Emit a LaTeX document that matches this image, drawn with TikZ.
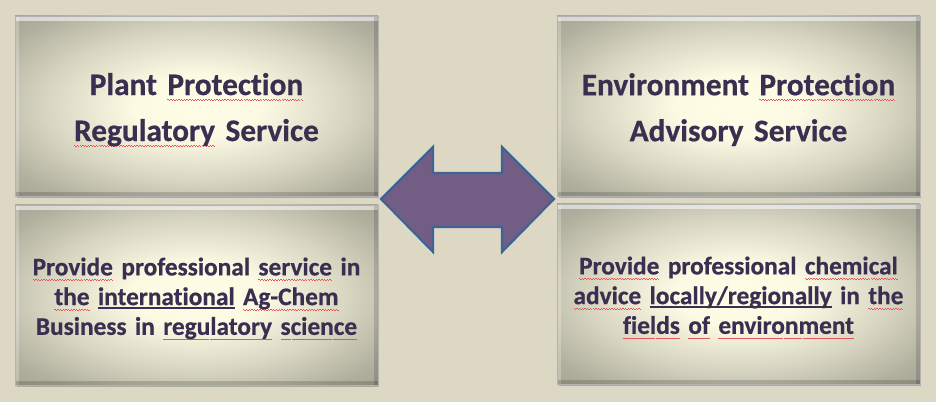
\documentclass[tikz,border=0pt]{standalone}
\usepackage{fontspec}
\setmainfont{Carlito}[Ligatures={NoCommon},BoldFeatures={FakeBold=0.6}]
\usetikzlibrary{shadows,positioning}
\definecolor{bgcol}{HTML}{DDD8C3}
\definecolor{txtcol}{HTML}{3B2F51}
\definecolor{boxin}{HTML}{FFFDE6}
\definecolor{boxout}{HTML}{A6A594}
\definecolor{arrfill}{HTML}{725E85}
\definecolor{arrline}{HTML}{3F6394}
\definecolor{squig}{HTML}{E2585A}
\newsavebox\wordbox
\newcommand\sqw[1]{\leavevmode\sbox\wordbox{#1}\rlap{\color{squig}\hbox to\wd\wordbox{\xleaders\hbox{\rule[-3.4pt]{1pt}{0.42pt}\rule[-3.85pt]{1pt}{0.42pt}}\hfill}}\usebox\wordbox}
\newcommand\ulb[1]{\leavevmode\sbox\wordbox{#1}\rlap{\rule[-2.7pt]{\wd\wordbox}{1.3pt}}\usebox\wordbox}
\pgfdeclareradialshading{boxshade}{\pgfpoint{0bp}{0bp}}{color(0bp)=(boxin); color(9bp)=(boxin!96!boxout); color(21bp)=(boxin!55!boxout); color(31bp)=(boxout!88!boxin); color(36bp)=(boxout); color(50bp)=(boxout!88!black); color(100bp)=(boxout!88!black)}

\begin{document}
\begin{tikzpicture}[x=0.75pt,y=-0.75pt,
	box/.style={rectangle,inner sep=0pt,minimum width=272pt,minimum height=135pt,
		shading=boxshade,draw=black!30,line width=0.3pt,text=txtcol,
		text width=266pt,align=center,
		drop shadow={shadow xshift=1.2pt,shadow yshift=-1.6pt,opacity=0.45,fill=black!55},
		path picture={
			\fill[white,opacity=0.55] (path picture bounding box.north west) rectangle ([yshift=-3.5pt]path picture bounding box.north east);
			\fill[white,opacity=0.25] (path picture bounding box.north west) rectangle ([xshift=2.5pt]path picture bounding box.south west);
			\fill[black,opacity=0.14] ([xshift=-3pt]path picture bounding box.north east) rectangle (path picture bounding box.south east);
			\fill[black,opacity=0.16] ([yshift=3pt]path picture bounding box.south west) rectangle (path picture bounding box.south east);}},
	title/.style={font=\fontsize{23.5}{34.5}\selectfont\bfseries},
	body/.style={font=\fontsize{19}{22.3}\selectfont\bfseries},
	dblarrow/.style={fill=arrfill,draw=arrline,line width=1.6pt,line join=miter}]
	\fill[bgcol] (0,0) rectangle (936,402);
	\useasboundingbox (0,0) rectangle (936,402);
	\node[box,title] (0) at (196.5,106) {\rule{0pt}{22pt}Plant \sqw{Protection}\\\sqw{Regulatory} Service};
	\node[box,body] (1) at (196.5,295) {\rule{0pt}{19pt}\sqw{Provide} professional \sqw{service} in\\\sqw{the} \ulb{international} \sqw{Ag-Chem}\\Business in \sqw{regulatory} \sqw{science}};
	\node[box,title] (2) at (738.5,106) {\rule{0pt}{22pt}Environment \sqw{Protection}\\Advisory Service};
	\node[box,body] (3) at (738.5,294) {\rule{0pt}{19pt}\sqw{Provide} professional \sqw{chemical}\\\sqw{advice} \ulb{locally/regionally} in \sqw{the}\\\sqw{fields} \sqw{of} \sqw{environment}};
	\draw[dblarrow] (381,199) -- (433,147) -- (433,173) -- (502,173) -- (502,147) -- (554,199)
		-- (502,252) -- (502,227) -- (433,227) -- (433,252) -- cycle;
\end{tikzpicture}
\end{document}
